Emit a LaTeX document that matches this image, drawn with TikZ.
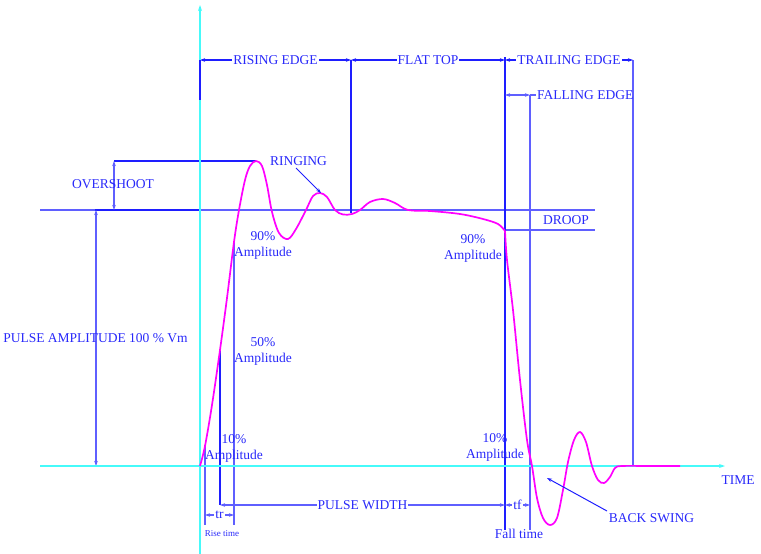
\documentclass[tikz,border=0pt]{standalone}
\usepackage{fontspec}
\setmainfont{Liberation Serif}
\usetikzlibrary{arrows.meta}
\definecolor{txtblue}{RGB}{40,40,250}
\definecolor{lineblue}{RGB}{95,95,255}
\definecolor{darkblue}{RGB}{30,30,255}
\definecolor{axcyan}{RGB}{70,250,250}
\definecolor{pulse}{RGB}{255,0,255}
\begin{document}
\begin{tikzpicture}[x=1pt,y=-1pt,
  lbl/.style={text=txtblue, font=\fontsize{13.5}{15}\selectfont, inner sep=1pt},
  lblw/.style={lbl, fill=white},
  amp/.style={lbl, align=center, font=\fontsize{13.5}{16}\selectfont},
  small/.style={text=txtblue, font=\fontsize{9}{10}\selectfont, inner sep=1pt},
  dimline/.style={draw=lineblue, line width=1.3pt},
  darkline/.style={draw=darkblue, line width=1.4pt},
  axisline/.style={draw=axcyan, line width=1.7pt},
  tipend/.style={-{Stealth[length=5pt,width=3.5pt]}},
  tipboth/.style={{Stealth[length=5pt,width=3.5pt]}-{Stealth[length=5pt,width=3.5pt]}},
  axtip/.style={-{Stealth[length=6pt,width=4pt]}},
  pulseline/.style={draw=pulse, line width=1.7pt}
]
\useasboundingbox (0,0) rectangle (761,554);
% coordinates
\coordinate (yb) at (200,554);
\coordinate (yt) at (200,5);
\coordinate (xl) at (40,466);
\coordinate (xr) at (725,466);
\coordinate (t0) at (200,60);
\coordinate (t0b) at (200,100);
\coordinate (t1) at (351,60);
\coordinate (t1b) at (351,213);
\coordinate (t2) at (505,60);
\coordinate (t2a) at (505,57);
\coordinate (t2b) at (505,530);
\coordinate (t3) at (633,60);
\coordinate (t3b) at (633,466);
\coordinate (f0) at (505,95);
\coordinate (f1) at (530,95);
\coordinate (f1t) at (536,95);
\coordinate (f1b) at (530,530);
\coordinate (h1) at (40,210);
\coordinate (h2) at (595,210);
\coordinate (hd1) at (95,210);
\coordinate (hd2) at (200,210);
\coordinate (d1) at (505,230);
\coordinate (d2) at (595,230);
\coordinate (o1) at (114,161);
\coordinate (o2) at (114,210);
\coordinate (pk) at (256,161);
\coordinate (pa1) at (96,210);
\coordinate (pa2) at (96,466);
\coordinate (pb1) at (95,466);
\coordinate (pb2) at (122,466);
\coordinate (v10) at (205,445);
\coordinate (v10b) at (205,525);
\coordinate (v50) at (220,350);
\coordinate (v50b) at (220,505);
\coordinate (v90) at (234,242);
\coordinate (v90b) at (234,525);
\coordinate (tr0) at (205,515);
\coordinate (tr1) at (234,515);
\coordinate (pw1) at (505,505);
\coordinate (tf1) at (530,505);
\coordinate (rg0) at (296,168);
\coordinate (rg1) at (321,193);
\coordinate (bs0) at (607,511);
\coordinate (bs1) at (547,478);

% blue construction lines
\draw[dimline] (h1) -- (h2);
\draw[darkline] (hd1) -- (hd2);
\draw[dimline] (d1) -- (d2);
\draw[darkline] (o1) -- (pk);
\draw[dimline,tipboth] (o1) -- (o2);
\draw[dimline,tipboth] (pa1) -- (pa2);
\draw[darkline] (pb1) -- (pb2);
\draw[darkline] (t1) -- (t1b);
\draw[darkline] (t2a) -- (t2b);
\draw[dimline] (t3) -- (t3b);
\draw[dimline] (f1) -- (f1b);
\draw[dimline] (v10) -- (v10b);
\draw[darkline] (v50) -- (v50b);
\draw[dimline] (v90) -- (v90b);

% top dimensions
\draw[darkline,tipboth] (t0) -- node[lblw] (nre) {RISING EDGE} (t1);
\draw[darkline,tipboth] (t1) -- node[lblw] (nft) {FLAT TOP} (t2);
\draw[darkline,tipboth] (t2) -- node[lblw] (nte) {TRAILING EDGE} (t3);
\draw[dimline,tipboth] (f0) -- (f1);
\draw[dimline] (f1) -- (f1t);
\node[lbl,anchor=west] (nfe) at (f1t) {FALLING EDGE};

% bottom dimensions
\draw[dimline,tipboth] (tr0) -- node[lblw] (ntr) {tr} (tr1);
\draw[dimline,tipboth] (v50b) -- node[lblw] (npw) {PULSE WIDTH} (pw1);
\draw[dimline,tipboth] (pw1) -- node[lblw] (ntf) {tf} (tf1);

% axes
\draw[axisline,axtip] (yb) -- (yt);
\draw[axisline,axtip] (xl) -- (xr);
\draw[darkline] (t0) -- (t0b);

% pulse
\draw[pulseline] plot[smooth,tension=0.55] coordinates {
 (200,466) (205,446) (212,405) (220,350) (227,298) (234,242) (239,210)
 (245,180) (250,166) (256,161) (262,166) (267,185) (272,212) (279,233)
 (288,239) (296,229) (306,210) (313,196) (320,193) (327,197) (335,210)
 (343,214.5) (352,214) (360,210) (370,202) (383,199) (395,203) (408,210)
 (430,211) (460,214) (483,219) (498,224) (505,231)};
\draw[pulseline] plot[smooth,tension=0.55] coordinates {
 (505,231) (507,260) (513,310) (520,380) (527,440) (532,466) (537,498)
 (543,518) (550,525) (557,518) (563,490) (568,462) (574,440) (580,432)
 (586,442) (592,466) (598,480) (604,483) (610,477) (615,468) (622,466)
 (650,466) (680,466)};

% pointers
\draw[darkline,tipend,line width=1pt] (rg0) -- (rg1);
\draw[darkline,tipend,line width=1pt] (bs0) -- (bs1);

% labels
\node[lbl] (nos) at (113,184) {OVERSHOOT};
\node[lbl] (npa) at (95.5,338) {PULSE AMPLITUDE 100 \% Vm};
\node[lbl] (nri) at (298.5,161) {RINGING};
\node[amp] (n90l) at (263,245) {90\%\\Amplitude};
\node[amp] (n50l) at (263,351) {50\%\\Amplitude};
\node[amp] (n10l) at (234,448) {10\%\\Amplitude};
\node[amp] (n90r) at (473,248.5) {90\%\\Amplitude};
\node[amp] (n10r) at (495,447.5) {10\%\\Amplitude};
\node[lbl] (ndr) at (566,220) {DROOP};
\node[lbl] (ntime) at (738,480) {TIME};
\node[lbl] (nbs) at (651.5,518) {BACK SWING};
\node[lbl] (nfall) at (519,534) {Fall time};
\node[small] (nrise) at (222,534) {Rise time};
\end{tikzpicture}
\end{document}
